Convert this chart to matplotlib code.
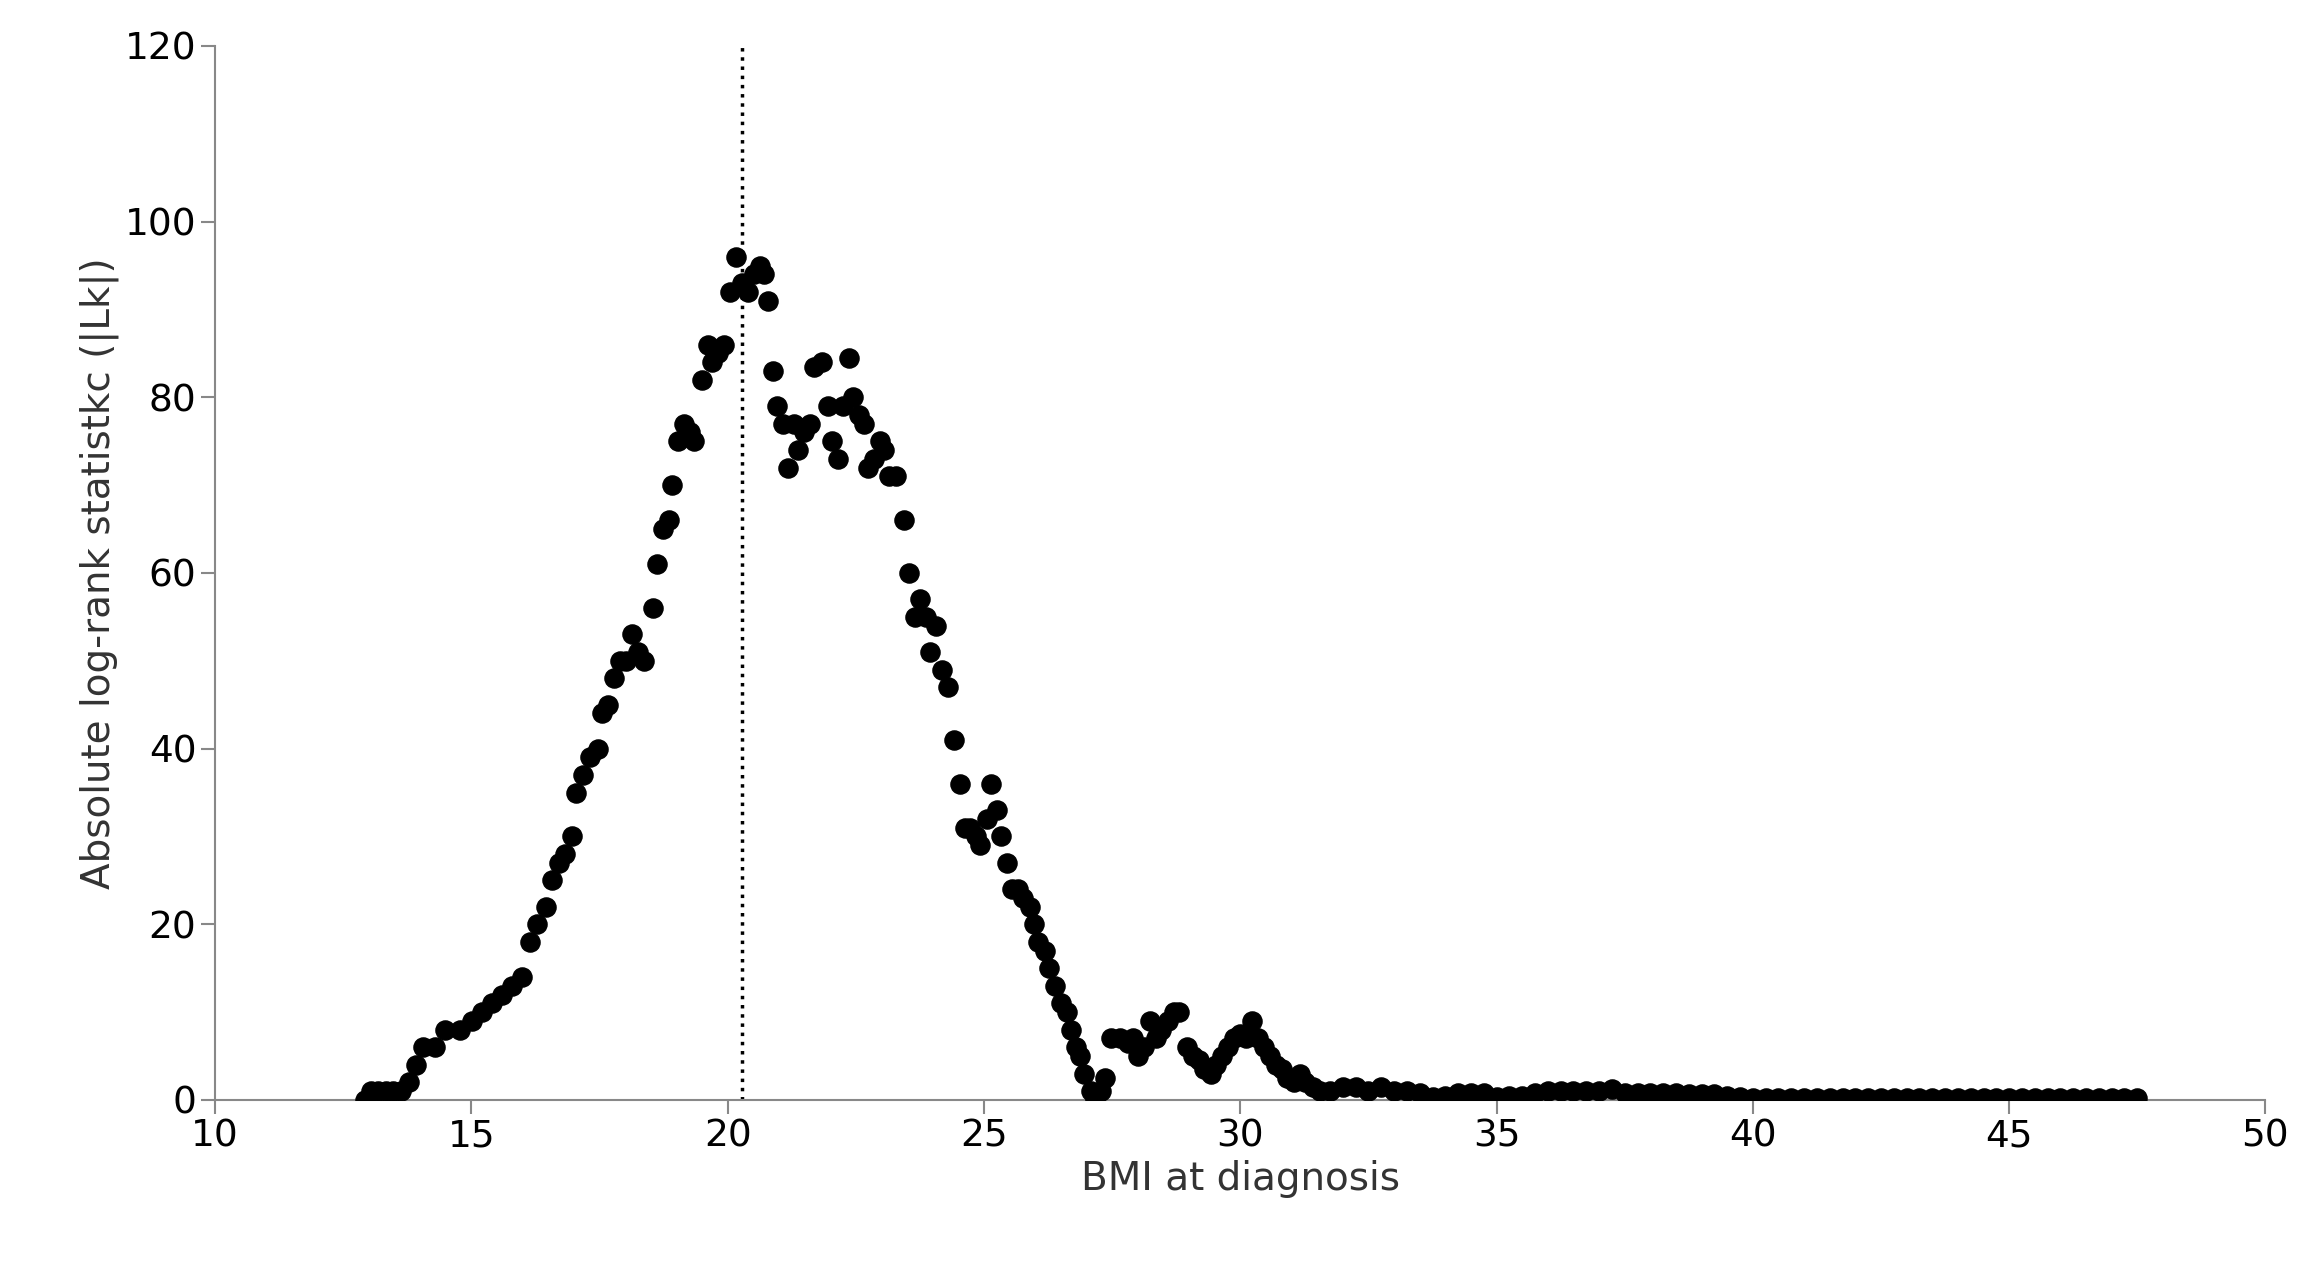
import numpy as np
import matplotlib.pyplot as plt

# main part of the curve (BMI, |Lk|)
bmi = [12.92, 13.04, 13.18, 13.33, 13.47, 13.62, 13.79, 13.91, 14.05, 14.28, 14.49, 14.78,
       15.01, 15.21, 15.41, 15.59, 15.79, 15.99, 16.14, 16.28, 16.45, 16.57, 16.71, 16.83,
       16.97, 17.03, 17.18, 17.32, 17.47, 17.55, 17.67, 17.79, 17.90, 18.02, 18.13, 18.25,
       18.36, 18.54, 18.62, 18.74, 18.86, 18.91, 19.03, 19.15, 19.26, 19.35, 19.49, 19.61,
       19.70, 19.81, 19.93, 20.04, 20.16, 20.27, 20.39, 20.51, 20.62, 20.71, 20.79, 20.88,
       20.97, 21.08, 21.17, 21.29, 21.37, 21.49, 21.61, 21.69, 21.84, 21.95, 22.04, 22.16,
       22.24, 22.36, 22.44, 22.56, 22.65, 22.73, 22.85, 22.97, 23.05, 23.14, 23.28, 23.43,
       23.54, 23.66, 23.75, 23.86, 23.95, 24.07, 24.18, 24.30, 24.41, 24.53, 24.62, 24.73,
       24.85, 24.93, 25.05, 25.14, 25.25, 25.34, 25.45, 25.54, 25.66, 25.77, 25.89, 25.98,
       26.06, 26.18, 26.26, 26.38, 26.50, 26.61, 26.70, 26.79, 26.87, 26.96, 27.08, 27.16,
       27.28, 27.36, 27.48, 27.65, 27.80, 27.91, 28.00, 28.12, 28.23, 28.35, 28.46, 28.58,
       28.70, 28.81, 28.96, 29.07, 29.19, 29.30, 29.42, 29.53, 29.65, 29.76, 29.88, 30.00,
       30.11, 30.23, 30.34, 30.46, 30.58, 30.69, 30.81, 30.92, 31.04, 31.16, 31.27, 31.42,
       31.56]
lk = [0, 1, 1, 1, 1, 1, 2, 4, 6, 6, 8, 8,
      9, 10, 11, 12, 13, 14, 18, 20, 22, 25, 27, 28,
      30, 35, 37, 39, 40, 44, 45, 48, 50, 50, 53, 51,
      50, 56, 61, 65, 66, 70, 75, 77, 76, 75, 82, 86,
      84, 85, 86, 92, 96, 93, 92, 94, 95, 94, 91, 83,
      79, 77, 72, 77, 74, 76, 77, 83.5, 84, 79, 75, 73,
      79, 84.5, 80, 78, 77, 72, 73, 75, 74, 71, 71, 66,
      60, 55, 57, 55, 51, 54, 49, 47, 41, 36, 31, 31,
      30, 29, 32, 36, 33, 30, 27, 24, 24, 23, 22, 20,
      18, 17, 15, 13, 11, 10, 8, 6, 5, 3, 1, 0,
      1, 2.5, 7, 7, 6.5, 7, 5, 6, 9, 7, 8, 9,
      10, 10, 6, 5, 4.5, 3.5, 3, 4, 5, 6, 7, 7.5,
      7, 9, 7, 6, 5, 4, 3.5, 2.5, 2, 3, 2, 1.5,
      1]

# long flat tail, every 0.25 BMI from 31.75 to 47.5
tail_lk = [1, 1.5, 1.5, 1, 1.5, 1, 1, 0.8, 0.3, 0.5, 0.8, 0.8,
           0.8, 0.3, 0.5, 0.5, 0.8, 1, 1, 1, 1, 1, 1.2, 0.8,
           0.8, 0.8, 0.8, 0.8, 0.7, 0.7, 0.7, 0.5, 0.3, 0.2, 0.2, 0.2,
           0.2, 0.2, 0.2, 0.2, 0.2, 0.2, 0.2, 0.2, 0.2, 0.2, 0.2, 0.2,
           0.2, 0.2, 0.2, 0.2, 0.2, 0.2, 0.2, 0.2, 0.2, 0.2, 0.2, 0.2,
           0.2, 0.2, 0.2, 0.2]
tail_bmi = 31.75 + 0.25 * np.arange(len(tail_lk))

cutoff = 20.27

fig = plt.figure(figsize=(23.14, 12.76), dpi=100)
ax = fig.add_axes([0.093, 0.138, 0.886, 0.826])

ax.scatter(bmi, lk, s=190, c='black', zorder=3)
ax.scatter(tail_bmi, tail_lk, s=190, c='black', zorder=3)
ax.plot([cutoff, cutoff], [0, 120], color='black', linestyle=':', linewidth=2.5)

ax.set_xlim(10, 50)
ax.set_ylim(0, 120)
ax.set_xticks(range(10, 51, 5))
ax.set_yticks(range(0, 121, 20))
for s in ['top', 'right']:
    ax.spines[s].set_visible(False)
for s in ['left', 'bottom']:
    ax.spines[s].set_color('#888888')
    ax.spines[s].set_linewidth(1.5)
ax.tick_params(direction='out', length=10, width=1.5, color='#888888', labelsize=27)

ax.set_xlabel('BMI at diagnosis', fontsize=28, color='#333333')
ax.set_ylabel('Absolute log-rank statistkc (|Lk|)', fontsize=28, color='#333333')

fig.savefig('out.png')
